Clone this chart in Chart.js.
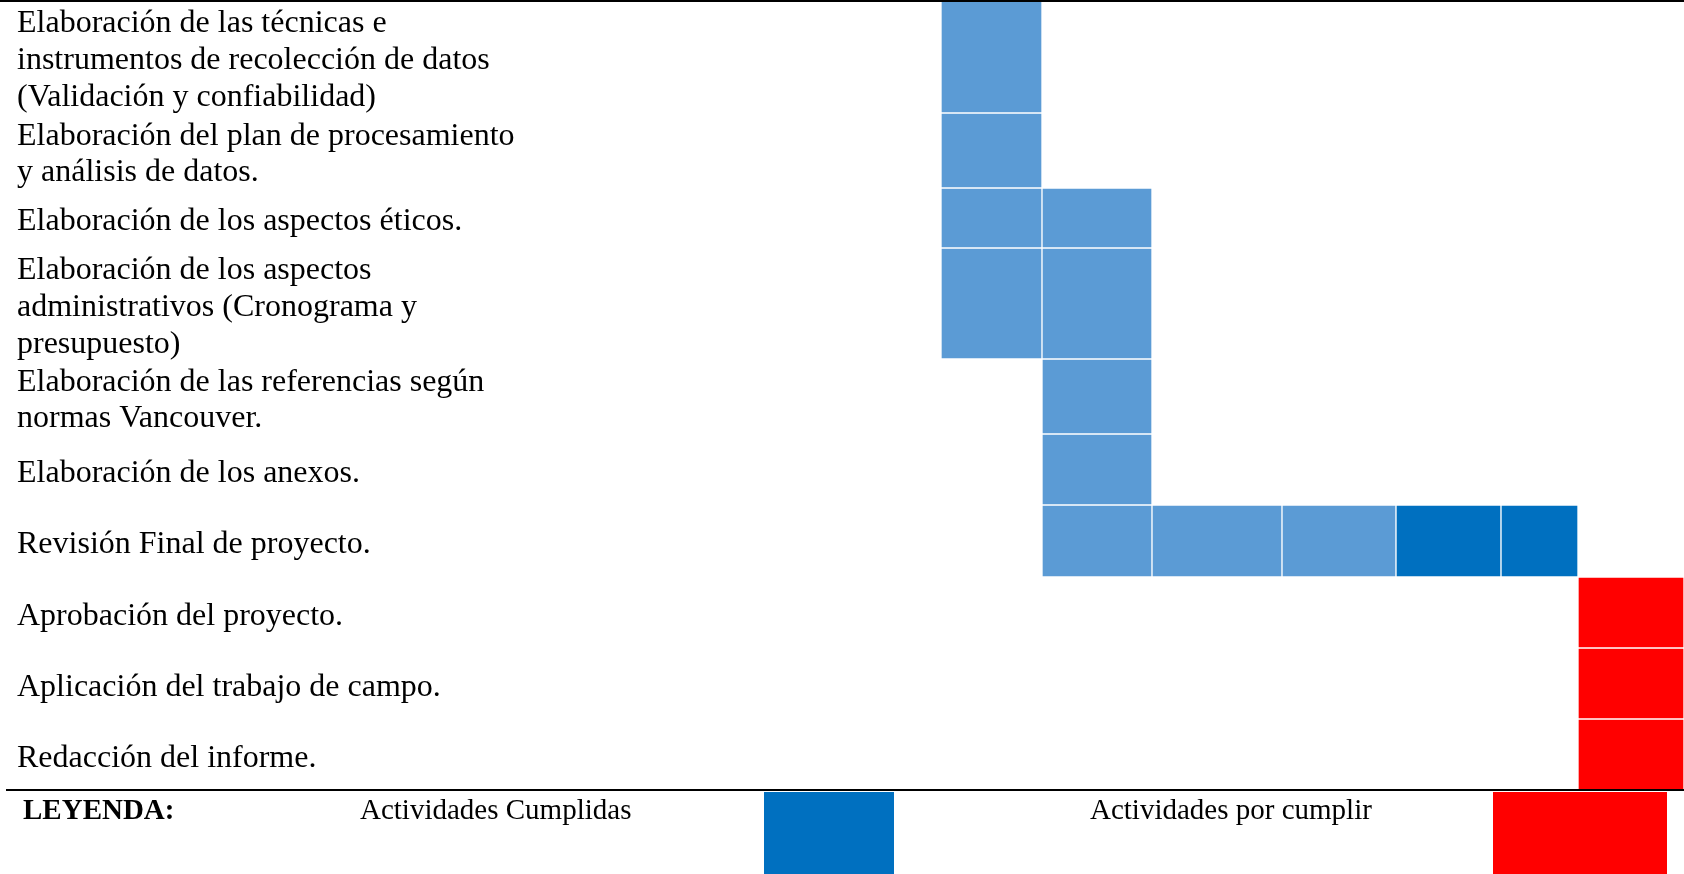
<!DOCTYPE html>
<html lang="es">
<head>
<meta charset="utf-8">
<title>Cronograma de actividades</title>
<script src="https://cdn.jsdelivr.net/npm/chart.js@4"></script>
<style>
    body { margin: 0; background: #ffffff; }
    #wrap { position: relative; width: 1684px; height: 874px; overflow: hidden; font-family: "Liberation Serif", "Times New Roman", serif; color: #000; }
    #chartBox { position: absolute; left: 0; top: 0; width: 1684px; height: 790px; }
    #topLine { position: absolute; left: 0; top: 0; width: 1684px; height: 2px; background: #000; }
    #leyenda { position: absolute; left: 6px; top: 789px; width: 1678px; height: 85px; border-top: 2px solid #000; }
    .txt { position: absolute; top: 4px; font-size: 29px; line-height: 29px; white-space: nowrap; }
    .box { position: absolute; top: 1px; height: 84px; }
</style>
</head>
<body>
<div id="wrap">
    <div id="chartBox"><canvas id="cronograma" width="1684" height="790"></canvas></div>
    <div id="topLine"></div>
    <div id="leyenda">
        <span class="txt" style="left:17px;font-weight:bold;">LEYENDA:</span>
        <span class="txt" style="left:354px;">Actividades Cumplidas</span>
        <div class="box" id="boxCumplidas" style="left:758px;width:130px;"></div>
        <span class="txt" style="left:1084px;">Actividades por cumplir</span>
        <div class="box" id="boxPorCumplir" style="left:1487px;width:174px;"></div>
    </div>
</div>

<script>
// Actividades (filas del cronograma)
const tareas = [
    ["Elaboración de las técnicas e", "instrumentos de recolección de datos", "(Validación y confiabilidad)"],
    ["Elaboración del plan de procesamiento", "y análisis de datos."],
    ["Elaboración de los aspectos éticos."],
    ["Elaboración de los aspectos", "administrativos (Cronograma y", "presupuesto)"],
    ["Elaboración de las referencias según", "normas Vancouver."],
    ["Elaboración de los anexos."],
    ["Revisión Final de proyecto."],
    ["Aprobación del proyecto."],
    ["Aplicación del trabajo de campo."],
    ["Redacción del informe."]
];

// Periodos (columnas) – 11 columnas, la cabecera queda fuera del recorte
const periodos = ["P1", "P2", "P3", "P4", "P5", "P6", "P7", "P8", "P9", "P10", "P11"];

// Rangos de periodos por actividad [desde, hasta] (índices de periodo)
const enProceso  = [[4, 4], [4, 4], [4, 5], [4, 5], [5, 5], [5, 5], [5, 7], null, null, null];
const cumplidas  = [null, null, null, null, null, null, [8, 9], null, null, null];
const porCumplir = [null, null, null, null, null, null, null, [10, 10], [10, 10], [10, 10]];

// Layout of the table (widths / heights in px)
const anchoColumnas = [96, 106, 90, 103, 101, 110, 130, 114, 105, 77, 106];
const altoFilas = [113, 75, 60, 111, 75, 71, 72, 71, 71, 71];
const bajadaTexto = 4; // labels sit a little below the row centre

// Colors
const COLOR_PROCESO = "#5B9BD5";
const COLOR_CUMPLIDA = "#0070C0";
const COLOR_PENDIENTE = "#FF0000";

document.getElementById("boxCumplidas").style.background = COLOR_CUMPLIDA;
document.getElementById("boxPorCumplir").style.background = COLOR_PENDIENTE;

// column edges and row centres on the scales
const bordesX = [0];
anchoColumnas.forEach(w => bordesX.push(bordesX[bordesX.length - 1] + w));
const bordesY = [0];
altoFilas.forEach(h => bordesY.push(bordesY[bordesY.length - 1] + h));
const centrosY = altoFilas.map((h, i) => bordesY[i] + h / 2);

// Build one dataset per row so each row keeps its own height
const datasets = tareas.map((t, i) => {
    const data = [];
    const colores = [];
    const agregar = (rango, color) => {
        if (!rango) return;
        for (let p = rango[0]; p <= rango[1]; p++) {
            data.push({ x: [bordesX[p], bordesX[p + 1]], y: centrosY[i], periodo: periodos[p] });
            colores.push(color);
        }
    };
    agregar(enProceso[i], COLOR_PROCESO);
    agregar(cumplidas[i], COLOR_CUMPLIDA);
    agregar(porCumplir[i], COLOR_PENDIENTE);
    return {
        label: t.join(" "),
        data: data,
        backgroundColor: colores,
        borderColor: "#ffffff",
        borderWidth: 1,
        borderSkipped: false,
        barThickness: altoFilas[i],
        grouped: false
    };
});

const ctx = document.getElementById("cronograma");

new Chart(ctx, {
    type: "bar",
    data: { datasets: datasets },
    options: {
        indexAxis: "y",
        responsive: false,
        animation: false,
        devicePixelRatio: 1,
        layout: { padding: { left: 17, right: 0, top: 0, bottom: 0 } },
        plugins: {
            legend: { display: false },
            tooltip: { enabled: false }
        },
        scales: {
            x: {
                type: "linear",
                min: 0,
                max: bordesX[bordesX.length - 1],
                offset: false,
                display: false
            },
            y: {
                type: "linear",
                reverse: true,
                offset: false,
                min: 0,
                max: bordesY[bordesY.length - 1],
                afterBuildTicks: scale => {
                    scale.ticks = centrosY.map(v => ({ value: v + bajadaTexto }));
                },
                afterFit: scale => {
                    // table layout: fixed label column, no extra padding above/below
                    scale.width = 529;
                    scale.paddingTop = 0;
                    scale.paddingBottom = 0;
                },
                grid: { display: false },
                border: { display: false },
                ticks: {
                    autoSkip: false,
                    crossAlign: "far",
                    padding: 0,
                    color: "#000000",
                    font: { family: "'Liberation Serif', 'Times New Roman', serif", size: 32, lineHeight: 1.15 },
                    callback: (value, index) => tareas[index]
                }
            }
        }
    }
});
</script>
</body>
</html>
